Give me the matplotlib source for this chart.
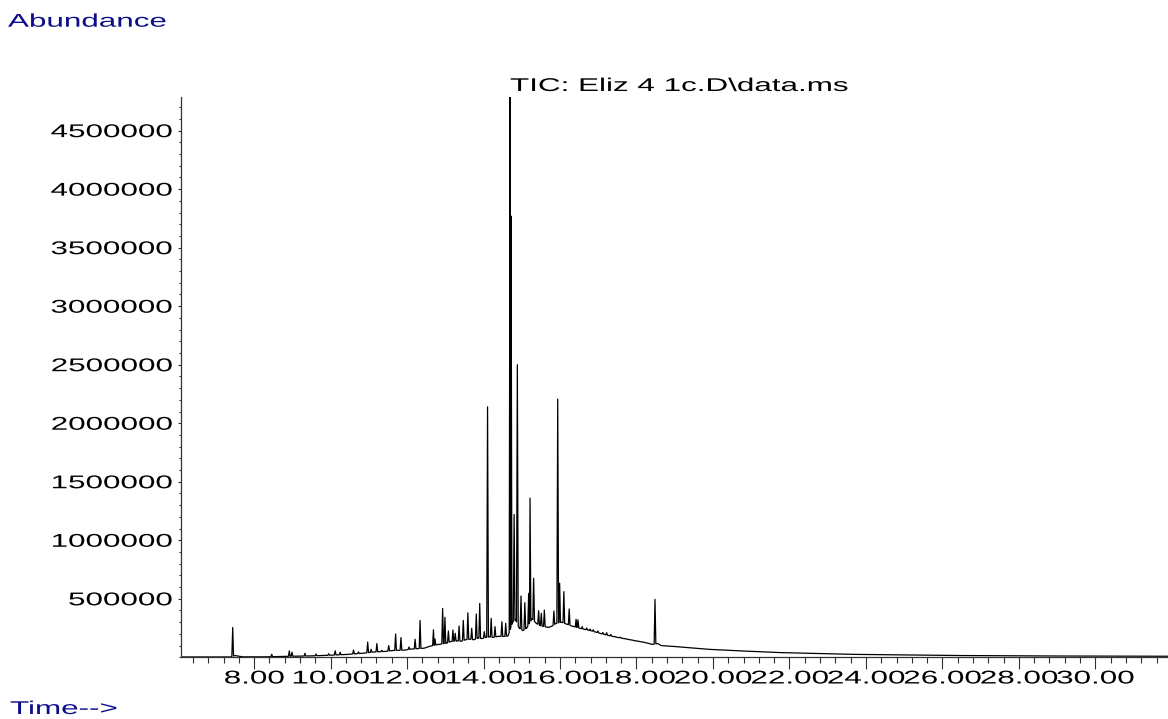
import numpy as np
import matplotlib
matplotlib.use('Agg')
import matplotlib.pyplot as plt
from matplotlib.ticker import FixedLocator, MultipleLocator
from matplotlib.patheffects import AbstractPathEffect
from matplotlib.transforms import Affine2D

# peaks: retention time (min) and apex abundance
peak_rt = [7.44, 8.46, 8.92, 8.99, 9.33, 9.62, 9.95, 10.12, 10.25, 10.60, 10.73, 10.97,
           11.06, 11.21, 11.34, 11.52, 11.70, 11.84, 12.05, 12.21, 12.34, 12.69, 12.73,
           12.93, 12.99, 13.08, 13.20, 13.26, 13.36, 13.47, 13.59, 13.69, 13.81,
           13.90, 14.02, 14.105, 14.20, 14.30, 14.48, 14.58, 14.693, 14.72, 14.80,
           14.884, 14.98, 15.08, 15.18, 15.216, 15.31, 15.44, 15.51, 15.59, 15.84,
           15.94, 15.99, 16.10, 16.24, 16.42, 16.47, 16.58, 16.70, 16.79, 16.87,
           16.99, 17.12, 17.22, 17.33, 17.44, 17.58, 17.72, 17.96, 18.484]
peak_top = [255e3, 26e3, 54e3, 43e3, 34e3, 28e3, 30e3, 56e3, 43e3, 62e3, 47e3, 130e3,
            68e3, 117e3, 60e3, 100e3, 199e3, 168e3, 88e3, 154e3, 315e3, 235e3, 156e3,
            418e3, 342e3, 225e3, 233e3, 205e3, 268e3, 315e3, 380e3, 248e3, 370e3,
            460e3, 219e3, 2140e3, 333e3, 262e3, 304e3, 291e3, 4790e3, 3770e3, 1220e3,
            2500e3, 524e3, 467e3, 547e3, 1360e3, 675e3, 398e3, 376e3, 404e3, 396e3,
            2206e3, 633e3, 561e3, 413e3, 325e3, 320e3, 262e3, 250e3, 240e3, 235e3,
            225e3, 212e3, 210e3, 195e3, 178e3, 172e3, 160e3, 140e3, 495e3]

# baseline / valley points between peaks
base_t = [6.08, 7.38, 7.50, 7.70, 8.30, 8.80, 9.20, 9.60, 10.00, 10.40,
          10.85, 11.12, 11.42, 11.62, 11.95, 12.10, 12.45, 12.60, 12.82, 13.03,
          13.14, 13.30, 13.42, 13.53, 13.64, 13.75, 13.86, 13.96, 14.06, 14.15,
          14.25, 14.40, 14.53, 14.64, 14.76, 14.84, 14.93, 15.03, 15.13, 15.27,
          15.38, 15.48, 15.55, 15.70, 15.80, 15.90, 16.04, 16.16, 16.30, 16.55,
          16.80, 17.10, 17.35, 17.70, 18.20, 18.42, 18.55, 18.65, 19.00, 19.90,
          20.84, 21.78, 23.70, 26.50, 29.00, 31.90]
base_y = [3e3, 3e3, 15e3, 4e3, 4e3, 8e3, 10e3, 13e3, 18e3, 24e3,
          35e3, 45e3, 50e3, 58e3, 62e3, 70e3, 78e3, 95e3, 110e3, 120e3,
          135e3, 140e3, 138e3, 150e3, 155e3, 150e3, 165e3, 160e3, 170e3, 175e3,
          170e3, 180e3, 178e3, 182e3, 300e3, 320e3, 250e3, 228e3, 250e3, 330e3,
          290e3, 270e3, 265e3, 255e3, 268e3, 290e3, 300e3, 285e3, 268e3, 245e3,
          228e3, 200e3, 180e3, 158e3, 128e3, 110e3, 118e3, 100e3, 92e3, 68e3,
          53e3, 40e3, 25e3, 15e3, 11e3, 9e3]

x_major = [8, 10, 12, 14, 16, 18, 20, 22, 24, 26, 28, 30]
y_major = [500000, 1000000, 1500000, 2000000, 2500000, 3000000, 3500000, 4000000, 4500000]

NAVY = '#0c0c8c'
FONT = 'Liberation Sans'
FS = 13.3
SX = 1.70   # the source image is stretched sideways
HALF = 0.022


class Stretch(AbstractPathEffect):
    # widen the glyphs about one edge, text stays a Text artist
    def __init__(self, sx, anchor='left'):
        super().__init__()
        self.sx = sx
        self.anchor = anchor

    def draw_path(self, renderer, gc, tpath, affine, rgbFace=None):
        xs = tpath.vertices[:, 0]
        if len(xs) == 0:
            return
        if self.anchor == 'left':
            a = xs.min()
        elif self.anchor == 'right':
            a = xs.max()
        else:
            a = (xs.min() + xs.max()) / 2
        st = Affine2D().translate(-a, 0).scale(self.sx, 1).translate(a, 0)
        renderer.draw_path(gc, tpath, st + affine, rgbFace)


# build the trace: baseline points, peak feet on the baseline, peak apexes
pts = list(zip(base_t, base_y))
for rt, top in zip(peak_rt, peak_top):
    for ft in (rt - HALF, rt + HALF):
        pts.append((ft, float(np.interp(ft, base_t, base_y))))
    pts.append((rt, top))
pts.sort(key=lambda p: p[0])
t = np.array([p[0] for p in pts])
y = np.array([p[1] for p in pts])

fig = plt.figure(figsize=(11.68, 7.19), dpi=100)
ax = fig.add_axes([180.7 / 1168, 1 - 657.3 / 719, (1168 - 180.7) / 1168, (657.3 - 96.7) / 719])
ax.plot(t, y, color='black', lw=0.9)

ax.set_xlim(6.08, 31.9)
ax.set_ylim(0, 4.79e6)
for s in ('top', 'right'):
    ax.spines[s].set_visible(False)
for s in ('left', 'bottom'):
    ax.spines[s].set_color('#333333')
    ax.spines[s].set_linewidth(0.9)

ax.xaxis.set_major_locator(FixedLocator(x_major))
ax.xaxis.set_minor_locator(MultipleLocator(0.4))
ax.yaxis.set_major_locator(FixedLocator(y_major))
ax.yaxis.set_minor_locator(MultipleLocator(100000))
ax.set_xticklabels(['%.2f' % v for v in x_major])
ax.set_yticklabels([str(v) for v in y_major])

ax.tick_params(axis='x', which='major', length=8.5, width=0.8, pad=1, color='#333333')
ax.tick_params(axis='x', which='minor', length=4.5, width=0.8, color='#333333')
ax.tick_params(axis='y', which='major', length=2.2, width=0.8, pad=3.4, color='#333333')
ax.tick_params(axis='y', which='minor', length=1.1, width=0.8, color='#333333')

for lbl in ax.get_xticklabels():
    lbl.set_fontfamily(FONT)
    lbl.set_fontsize(FS)
    lbl.set_path_effects([Stretch(SX, 'center')])
for lbl in ax.get_yticklabels():
    lbl.set_fontfamily(FONT)
    lbl.set_fontsize(FS)
    lbl.set_path_effects([Stretch(SX, 'right')])

fig.text(679 / 1168, 1 - 91 / 719, 'TIC: Eliz 4 1c.D\\data.ms', ha='center', va='baseline',
         family=FONT, fontsize=FS, color='black', path_effects=[Stretch(SX, 'center')])
fig.text(8 / 1168, 1 - 26.7 / 719, 'Abundance', ha='left', va='baseline',
         family=FONT, fontsize=FS, color=NAVY, path_effects=[Stretch(SX, 'left')])
fig.text(10 / 1168, 1 - 714 / 719, 'Time-->', ha='left', va='baseline',
         family=FONT, fontsize=FS, color=NAVY, path_effects=[Stretch(SX, 'left')])

fig.savefig('out.png', dpi=100)
